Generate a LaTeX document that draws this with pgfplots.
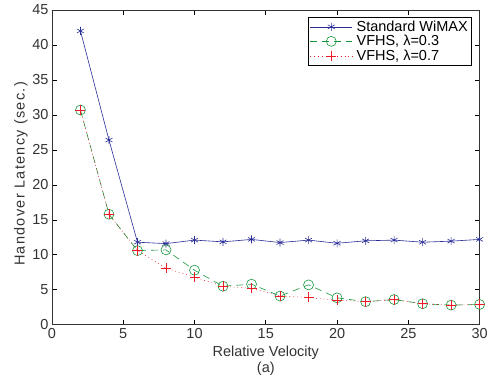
\documentclass[border=0pt]{standalone}
\usepackage{pgfplots}
\pgfplotsset{compat=1.18}
\usepackage{fontspec}
\setmainfont{Liberation Sans}
\definecolor{sblue}{RGB}{40,45,150}
\definecolor{sgreen}{RGB}{20,150,60}
\definecolor{sred}{RGB}{235,30,40}
\begin{document}
\begin{tikzpicture}
\begin{axis}[
  width=428pt, height=315pt, scale only axis,
  xmin=0, xmax=30, ymin=0, ymax=45,
  xtick={0,5,...,30}, ytick={0,5,...,45},
  tick align=inside,
  tick style={black, line width=0.6pt},
  major tick length=5pt,
  axis line style={line width=0.8pt, black!80},
  font=\fontsize{14.5}{16.5}\selectfont,
  /pgf/number format/assume math mode=true,
  ticklabel style={font=\fontsize{14.5}{16}\selectfont, text=black!80},
  xlabel={Relative Velocity\\(a)},
  xlabel style={align=center, text=black!80, font=\fontsize{14.5}{16.5}\selectfont,
    at={(axis description cs:0.5,-0.1143)}, anchor=center},
  ylabel={Handover Latency (sec.)},
  ylabel style={text=black!80, font=\fontsize{14.5}{16}\selectfont\addfontfeatures{LetterSpace=9},
    at={(axis description cs:-0.0724,0.479)}, anchor=center},
  legend style={at={(axis description cs:0.9813,0.9778)}, anchor=north east, draw=black, line width=0.8pt,
    font=\fontsize{14.5}{15}\selectfont, row sep=-1.5pt, column sep=2pt, inner sep=1.5pt, cells={anchor=west}},
  legend cell align=left,
  legend image code/.code={\draw[mark repeat=2, mark phase=2, #1] plot coordinates {(0pt,0pt) (21pt,0pt) (42pt,0pt)};},
]
\addplot[sblue, line width=0.6pt, mark=asterisk, mark size=4pt, mark options={solid, sblue}]
coordinates {(2,42.0)(4,26.4)(6,11.8)(8,11.6)(10,12.1)(12,11.85)(14,12.2)(16,11.75)(18,12.1)(20,11.65)(22,12.0)(24,12.1)(26,11.8)(28,11.95)(30,12.2)};
\addlegendentry{Standard WiMAX}
\addplot[sgreen, line width=0.6pt, dash pattern=on 7pt off 5pt, mark=o, mark size=5pt, mark options={solid, sgreen}]
coordinates {(2,30.7)(4,15.8)(6,10.6)(8,10.7)(10,7.8)(12,5.5)(14,5.8)(16,4.1)(18,5.7)(20,3.85)(22,3.3)(24,3.6)(26,3.0)(28,2.8)(30,2.9)};
\addlegendentry{VFHS, λ=0.3}
\addplot[sred, line width=0.6pt, dash pattern=on 0.8pt off 3pt, mark=+, mark size=5pt, mark options={solid, sred}]
coordinates {(2,30.7)(4,15.8)(6,10.6)(8,8.1)(10,6.8)(12,5.5)(14,5.2)(16,4.1)(18,3.9)(20,3.5)(22,3.3)(24,3.6)(26,3.0)(28,2.8)(30,2.9)};
\addlegendentry{VFHS, λ=0.7}
\end{axis}
\path (current axis.south west) ++(-52pt,-58pt) rectangle ++(491pt,383pt);
\end{tikzpicture}
\end{document}
